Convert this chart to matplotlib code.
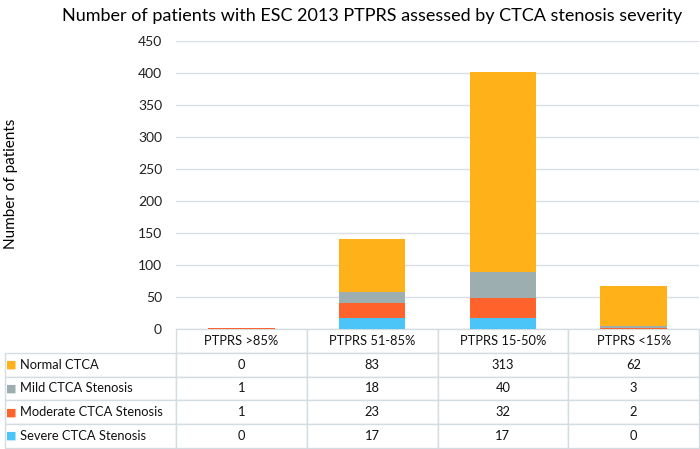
import matplotlib
matplotlib.use("Agg")
import matplotlib.pyplot as plt
import numpy as np

# data
categories = ['PTPRS >85%', 'PTPRS 51-85%', 'PTPRS 15-50%', 'PTPRS <15%']
series_names = ['Normal CTCA', 'Mild CTCA Stenosis', 'Moderate CTCA Stenosis', 'Severe CTCA Stenosis']
normal = [0, 83, 313, 62]
mild = [1, 18, 40, 3]
moderate = [1, 23, 32, 2]
severe = [0, 17, 17, 0]
colors = ['#FFB119', '#9DAEB0', '#FF622A', '#4BC4F7']

plt.rcParams['font.family'] = ['Lato', 'DejaVu Sans']

fig = plt.figure(figsize=(7, 4.49), dpi=100)
W, H = 700, 449
ax = fig.add_axes([176 / W, 1 - 329 / H, (699 - 176) / W, (329 - 41) / H])

x = np.arange(len(categories))
stack = [severe, moderate, mild, normal]
stack_colors = [colors[3], colors[2], colors[1], colors[0]]
bottom = np.zeros(len(categories))
for vals, c in zip(stack, stack_colors):
    ax.bar(x, vals, width=0.51, bottom=bottom, color=c, zorder=3)
    bottom += np.array(vals)

ax.set_xlim(-0.5, len(categories) - 0.5)
ax.set_ylim(0, 450)
ax.set_yticks(range(0, 451, 50))
ax.set_xticks([])
ax.tick_params(axis='y', length=0, labelsize=10, pad=10, colors='#222222')
ax.grid(axis='y', color='#D9DFE3', linewidth=1, zorder=0)
for s in ax.spines.values():
    s.set_visible(False)
ax.set_ylabel('Number of patients', fontsize=11)
ax.yaxis.set_label_coords(-158 / 523, (329 - 184) / 288)

fig.text(372 / W, 1 - 16 / H, 'Number of patients with ESC 2013 PTPRS assessed by CTCA stenosis severity',
         ha='center', va='center', fontsize=13)

# data table below the bars
all_vals = [normal, mild, moderate, severe]
cell_text = [['    ' + n] + [str(v) for v in vals] for n, vals in zip(series_names, all_vals)]
left_px = 5
table_w = 699 - left_px
col_w = [171 / table_w] + [(699 - 176) / 4 / table_w] * 4
tb = ax.table(cellText=cell_text, colLabels=[''] + categories, colWidths=col_w,
              cellLoc='center',
              bbox=[(left_px - 176) / 523, -(448 - 329) / 288, table_w / 523, (448 - 329) / 288])
tb.auto_set_font_size(False)
tb.set_fontsize(9.3)
for (r, c), cell in tb.get_celld().items():
    cell.set_edgecolor('#D5DCE1')
    cell.set_linewidth(1)
    cell.get_text().set_color('#111111')
    if r == 0 and c == 0:
        cell.visible_edges = ''
    if c == 0 and r > 0:
        cell.get_text().set_ha('left')
        cell._loc = 'left'
        cell.PAD = 0.01

# coloured keys in the row-label cells
row_h = (448 - 329) / 288 / 5
for i, c in enumerate(colors):
    yc = -row_h * (1.5 + i)
    ax.text((11 - 176) / 523, yc, '■', color=c, fontsize=8, ha='center', va='center',
            transform=ax.transAxes, family='DejaVu Sans')

fig.savefig('out.png', dpi=100)
